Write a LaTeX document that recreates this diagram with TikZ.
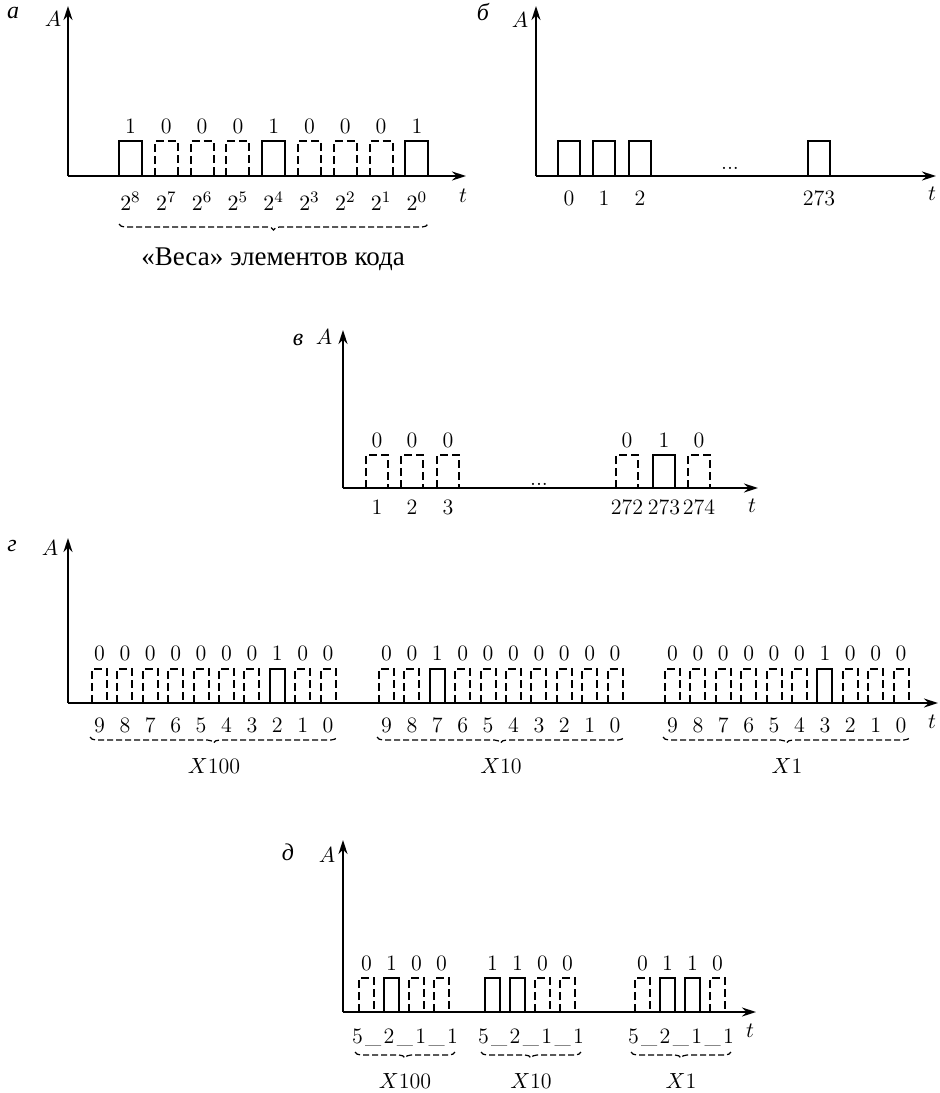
\documentclass[tikz,border=0pt]{standalone}
\usepackage{fontspec}
\newfontfamily\cyrfont{Liberation Serif}
\usetikzlibrary{arrows.meta,decorations.pathreplacing}

\begin{document}
\begin{tikzpicture}[x=0.5pt,y=-0.5pt,
font=\fontsize{11}{13}\selectfont,
axis/.style={line width=0.9pt,-{Stealth[length=7pt,width=4.5pt]}},
bit1/.style={line width=1pt},
bit0/.style={line width=1pt,dash pattern=on 4pt off 2pt},
wbrace/.style={decorate,decoration={brace,mirror,amplitude=3pt},dash pattern=on 3pt off 1.5pt,line width=0.6pt},
panel/.style={font=\cyrfont\itshape\fontsize{12}{14}\selectfont,anchor=base},
lbl/.style={anchor=base,inner sep=0pt}]

\useasboundingbox (0,0) rectangle (940,1093);

%%%%%%%%%%%%%%%%%%%%%%%%%%%%%%%%%%%%%%%%%%%%%%%%%%%%%%%%%%
% PANEL A : BINARY CODE
%%%%%%%%%%%%%%%%%%%%%%%%%%%%%%%%%%%%%%%%%%%%%%%%%%%%%%%%%%

\node[panel](pa) at (13,18) {а};
\node[lbl](Aa) at (53,26) {$A$};
\node[lbl](ta) at (463,202) {$t$};

\coordinate (oa) at (68,176);
\coordinate (ya) at (68,6);
\coordinate (xa) at (466,176);
\draw[axis] (oa) -- (ya);
\draw[axis] (oa) -- (xa);

\foreach \b [count=\i from 0] in {1,0,0,0,1,0,0,0,1}{
\draw[bit\b] (119+35.8*\i,176) -- ++(0,-35) -- ++(23,0) -- ++(0,35);
\node[lbl](a-b\i) at (130.5+35.8*\i,133) {\b};
}
\foreach \e [count=\i from 0] in {8,7,...,0}{
\node[lbl](a-w\i) at (130.5+35.8*\i,210) {$2^{\e}$};
}

\coordinate (a-l) at (119,224);
\coordinate (a-r) at (428,224);
\draw[wbrace] (a-l) -- (a-r);
\node[lbl](weights) at (273,265) {\cyrfont\fontsize{13.5}{15}\selectfont «Веса» элементов кода};

%%%%%%%%%%%%%%%%%%%%%%%%%%%%%%%%%%%%%%%%%%%%%%%%%%%%%%%%%%
% PANEL B : UNITARY CODE
%%%%%%%%%%%%%%%%%%%%%%%%%%%%%%%%%%%%%%%%%%%%%%%%%%%%%%%%%%

\node[panel](pb) at (483,20) {б};
\node[lbl](Ab) at (520,27) {$A$};
\node[lbl](tb) at (932,200) {$t$};

\coordinate (ob) at (536,176);
\coordinate (yb) at (536,6);
\coordinate (xb) at (936,176);
\draw[axis] (ob) -- (yb);
\draw[axis] (ob) -- (xb);

\foreach \x/\n in {558/0,593/1,629/2,808/273}{
\draw[bit1] (\x,176) -- ++(0,-35) -- ++(22,0) -- ++(0,35);
\node[lbl](b-n\n) at (\x+11,205) {\n};
}
\node[lbl](b-dots) at (730,169) {...};

%%%%%%%%%%%%%%%%%%%%%%%%%%%%%%%%%%%%%%%%%%%%%%%%%%%%%%%%%%
% PANEL V : POSITIONAL CODE
%%%%%%%%%%%%%%%%%%%%%%%%%%%%%%%%%%%%%%%%%%%%%%%%%%%%%%%%%%

\node[panel](pv) at (298,345) {в};
\node[lbl](Av) at (324,344) {$A$};
\node[lbl](tv) at (752,512) {$t$};

\coordinate (ov) at (343,488);
\coordinate (yv) at (343,330);
\coordinate (xv) at (758,488);
\draw[axis] (ov) -- (yv);
\draw[axis] (ov) -- (xv);

\foreach \x/\b/\n in {366/0/1,401/0/2,437/0/3,616/0/272,653/1/273,688/0/274}{
\draw[bit\b] (\x,488) -- ++(0,-33) -- ++(22,0) -- ++(0,33);
\node[lbl](v-b\n) at (\x+11,447) {\b};
\node[lbl](v-n\n) at (\x+11,514) {\n};
}
\node[lbl](v-dots) at (539,485) {...};

%%%%%%%%%%%%%%%%%%%%%%%%%%%%%%%%%%%%%%%%%%%%%%%%%%%%%%%%%%
% PANEL G : DECIMAL DIGITS, ONE OF TEN
%%%%%%%%%%%%%%%%%%%%%%%%%%%%%%%%%%%%%%%%%%%%%%%%%%%%%%%%%%

\node[panel](pg) at (12,551) {г};
\node[lbl](Ag) at (50,555) {$A$};
\node[lbl](tg) at (932,728) {$t$};

\coordinate (og) at (68,703);
\coordinate (yg) at (68,538);
\coordinate (xg) at (938,703);
\draw[axis] (og) -- (yg);
\draw[axis] (og) -- (xg);

\foreach \s/\bits/\g [count=\k] in {92/{0,0,0,0,0,0,0,1,0,0}/$X$100,
379/{0,0,1,0,0,0,0,0,0,0}/$X$10,
665/{0,0,0,0,0,0,1,0,0,0}/$X$1}{
\foreach \b [count=\i from 0] in \bits{
\pgfmathtruncatemacro{\d}{9-\i}
\draw[bit\b] (\s+25.4*\i,703) -- ++(0,-34) -- ++(15,0) -- ++(0,34);
\node[lbl](g\k-b\i) at (\s+7.5+25.4*\i,660) {\b};
\node[lbl](g\k-n\i) at (\s+7.5+25.4*\i,732) {\d};
}
\coordinate (g\k-l) at (\s-2,737);
\coordinate (g\k-r) at (\s+245,737);
\draw[wbrace] (g\k-l) -- (g\k-r);
\node[lbl](g\k-x) at (\s+122,773) {\g};
}

%%%%%%%%%%%%%%%%%%%%%%%%%%%%%%%%%%%%%%%%%%%%%%%%%%%%%%%%%%
% PANEL D : 5-2-1-1 CODE
%%%%%%%%%%%%%%%%%%%%%%%%%%%%%%%%%%%%%%%%%%%%%%%%%%%%%%%%%%

\node[panel](pd) at (288,860) {д};
\node[lbl](Ad) at (327,862) {$A$};
\node[lbl](td) at (750,1037) {$t$};

\coordinate (od) at (343,1012);
\coordinate (yd) at (343,840);
\coordinate (xd) at (756,1012);
\draw[axis] (od) -- (yd);
\draw[axis] (od) -- (xd);

\foreach \s/\bits/\g [count=\k] in {359/{0,1,0,0}/$X$100,
485/{1,1,0,0}/$X$10,
635/{0,1,1,0}/$X$1}{
\foreach \b [count=\i from 0] in \bits{
\draw[bit\b] (\s+25*\i,1012) -- ++(0,-34) -- ++(15,0) -- ++(0,34);
\node[lbl](d\k-b\i) at (\s+7.5+25*\i,970) {\b};
}
\node[lbl](d\k-n) at (\s+46,1043)
{5\kern1.2pt\_\kern1.2pt2\kern1.2pt\_\kern1.2pt1\kern1.2pt\_\kern1.2pt1};
\coordinate (d\k-l) at (\s-4,1052);
\coordinate (d\k-r) at (\s+96,1052);
\draw[wbrace] (d\k-l) -- (d\k-r);
\node[lbl](d\k-x) at (\s+46,1088) {\g};
}

\end{tikzpicture}
\end{document}
